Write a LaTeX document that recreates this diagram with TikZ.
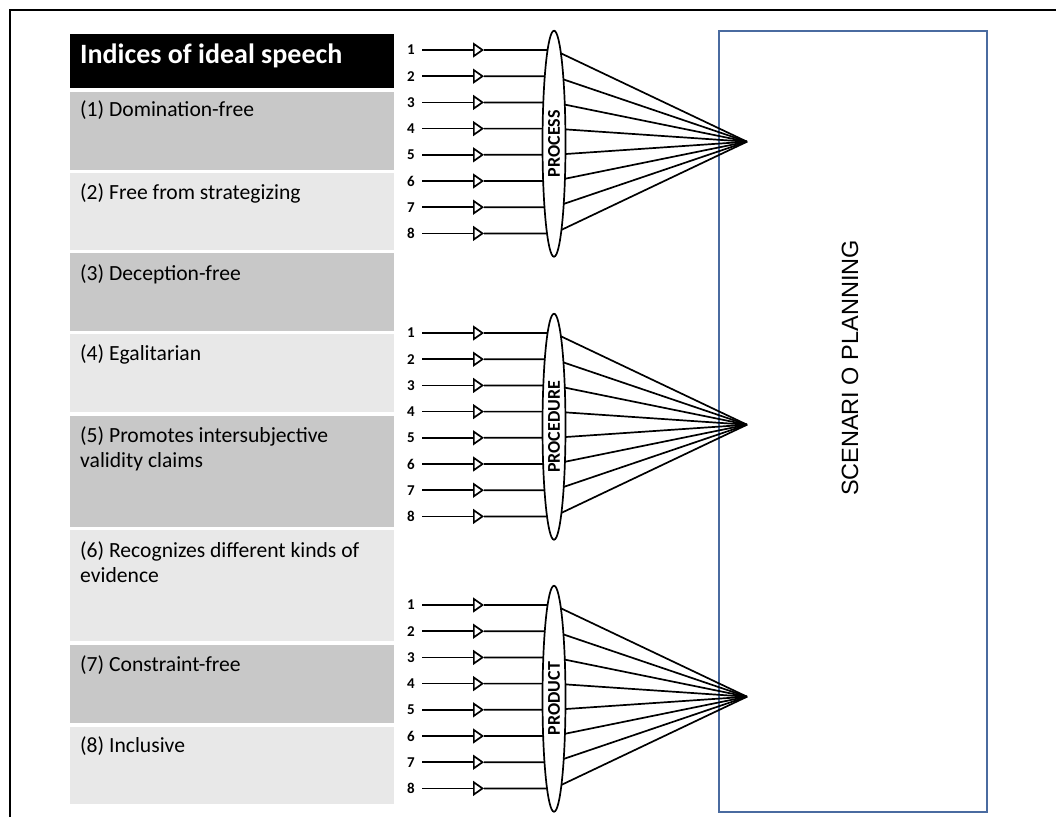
\documentclass[tikz,border=0pt]{standalone}
\usepackage{fontspec}
\setmainfont{Carlito}
\newfontfamily\arialf{Liberation Sans}
\usetikzlibrary{arrows.meta,shapes.geometric}
\definecolor{rowdark}{RGB}{200,200,200}
\definecolor{rowlight}{RGB}{232,232,232}
\definecolor{boxblue}{RGB}{74,107,160}
\begin{document}
\begin{tikzpicture}[x=1pt,y=-1pt,
  rowbox/.style={anchor=north west,inner sep=0pt,minimum width=324pt,draw=none},
  rowtext/.style={anchor=base west,inner sep=0pt,align=left,font=\fontsize{21.6}{25}\selectfont},
  num/.style={inner xsep=7pt,inner ysep=0pt,font=\bfseries\fontsize{15}{15}\selectfont},
  wire/.style={line width=1.7pt,black},
  lens/.style={ellipse,draw,fill=white,line width=1.7pt,minimum width=23pt,minimum height=226pt,inner sep=0pt},
  lenslabel/.style={rotate=90,inner sep=0pt,font=\bfseries\fontsize{18}{18}\selectfont}]
\useasboundingbox (0,0) rectangle (1056,817);
% frame
\draw[line width=2.5pt] (10,817) -- (10,10) -- (1056,10);
% header
\node[rowbox,fill=black,minimum height=54pt] (hdr) at (70,34) {};
\node[anchor=base west,inner sep=0pt,text=white,font=\bfseries\fontsize{28}{30}\selectfont] (hdrt) at (80,63) {Indices of ideal speech};
% rows
\foreach \i/\top/\h/\col/\bl/\txt in {
  1/92/78/rowdark/116/{(1) Domination-free},
  2/173/77/rowlight/199/{(2) Free from strategizing},
  3/253/78/rowdark/280/{(3) Deception-free},
  4/334/78/rowlight/360/{(4) Egalitarian},
  5/416/111/rowdark/467/{(5) Promotes intersubjective\\validity claims},
  6/530/111/rowlight/582/{(6) Recognizes different kinds of\\evidence},
  7/645/78/rowdark/671/{(7) Constraint-free},
  8/727/77/rowlight/752/{(8) Inclusive}}{
  \node[rowbox,fill=\col,minimum height=\h pt] (row\i) at (70,\top) {};
  \node[rowtext] (rowt\i) at (80,\bl) {\txt};
}
% scenario planning box
\node[anchor=north west,draw=boxblue,line width=2pt,minimum width=268pt,minimum height=781pt,inner sep=0pt] (sp) at (718,30) {};
\node[rotate=90,inner sep=0pt,font=\arialf\fontsize{23.5}{28}\selectfont] (spt) at (850,368) {SCENARI O PLANNING};
% three groups
\foreach \g/\y/\lab in {a/50/PROCESS, b/333/PROCEDURE, c/605/PRODUCT}{
  \coordinate (\g-conv) at (747,\y+91.7);
  \foreach \k in {1,...,8}{
    \pgfmathsetmacro\yy{\y+26.2*(\k-1)}
    \node[num] (\g-n\k) at (411,\yy) {\k};
    \coordinate (\g-t\k) at (484,\yy);
    \coordinate (\g-c\k) at (554,\yy);
    \draw[wire,-{Triangle[open,length=11pt,width=15pt]}] (\g-n\k) -- (\g-t\k);
    \draw[wire] (\g-t\k) -- (\g-c\k) -- (\g-conv);
  }
  \node[lens] (\g-e) at (554,\y+93.7) {};
  \node[lenslabel] (\g-l) at (\g-e.center) {\lab};
}
\end{tikzpicture}
\end{document}
